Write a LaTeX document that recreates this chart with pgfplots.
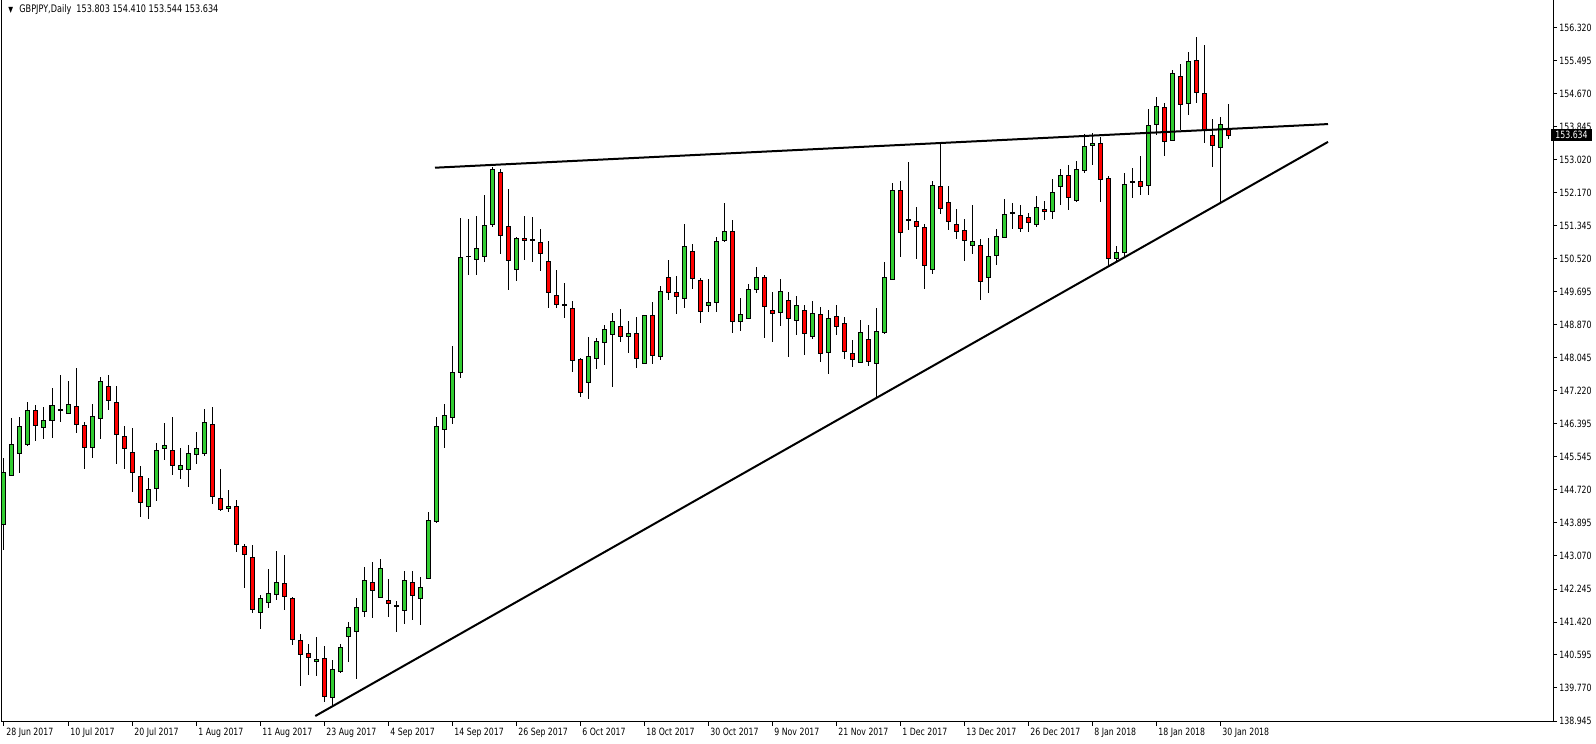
\documentclass[border=0pt]{standalone}
\usepackage{fontspec}
\setmainfont{DejaVu Sans}[FakeStretch=0.78]
\usepackage{pgfplots}
\pgfplotsset{compat=1.18}
\usepackage{pgfplotstable}
\definecolor{bull}{RGB}{50,205,50}
\definecolor{bear}{RGB}{255,0,0}

\pgfplotstableread{
i O H L C
0 143.884 145.531 143.232 145.171
1 145.104 146.534 145.088 145.882
2 145.656 146.559 145.155 146.333
3 145.873 146.935 145.848 146.734
4 146.734 146.868 145.974 146.358
5 146.308 146.809 146.024 146.483
6 146.483 147.294 146.049 146.860
7 146.740 147.620 146.450 146.752
8 146.659 147.461 146.659 146.885
9 146.834 147.796 146.174 146.383
10 146.358 146.442 145.272 145.806
11 145.806 146.885 145.547 146.584
12 146.534 147.561 146.024 147.461
13 147.336 147.620 146.743 146.985
14 146.935 147.336 145.397 146.132
15 146.082 146.333 145.272 145.781
16 145.681 146.283 144.695 145.180
17 145.079 145.338 144.068 144.428
18 144.327 145.029 144.018 144.753
19 144.779 145.907 144.469 145.731
20 145.781 146.408 145.497 145.857
21 145.731 146.559 145.121 145.347
22 145.255 145.781 145.021 145.355
23 145.255 145.857 144.820 145.656
24 145.631 146.183 145.397 145.781
25 145.656 146.759 145.598 146.433
26 146.383 146.809 144.394 144.578
27 144.528 145.255 144.220 144.252
28 144.277 144.728 144.193 144.327
29 144.327 144.478 143.191 143.374
30 143.316 143.374 142.288 143.124
31 143.049 143.349 141.661 141.736
32 141.670 142.096 141.260 142.012
33 141.920 142.748 141.787 142.146
34 142.121 143.199 141.987 142.422
35 142.397 143.099 141.736 142.071
36 142.021 142.046 140.859 140.993
37 140.968 141.118 139.814 140.617
38 140.642 140.867 140.107 140.541
39 140.441 141.043 140.065 140.491
40 140.516 140.817 139.430 139.564
41 139.538 140.466 139.304 140.240
42 140.190 140.867 140.140 140.792
43 141.068 141.419 140.433 141.293
44 141.193 142.021 140.007 141.795
45 141.695 142.798 141.544 142.472
46 142.422 142.923 141.536 142.221
47 142.046 142.998 142.021 142.773
48 141.970 142.497 141.561 141.895
49 141.830 141.945 141.185 141.836
50 141.720 142.698 141.385 142.472
51 142.422 142.698 141.486 142.096
52 142.021 142.547 141.360 142.296
53 142.522 144.177 142.514 143.976
54 143.943 146.559 143.918 146.333
55 146.250 146.900 145.800 146.600
56 146.550 148.347 146.400 147.687
57 147.687 151.548 147.550 150.570
58 150.590 151.523 150.136 150.600
59 150.520 151.606 150.136 150.796
60 150.587 152.133 150.461 151.373
61 151.398 152.843 151.339 152.776
62 152.701 152.776 150.662 151.122
63 151.347 152.283 149.760 150.495
64 150.269 151.072 149.985 151.047
65 151.047 151.606 150.512 150.996
66 151.021 151.573 150.461 151.000
67 150.946 151.272 150.219 150.670
68 150.470 150.988 149.292 149.693
69 149.617 150.253 149.292 149.392
70 149.385 149.927 149.041 149.375
71 149.292 149.467 147.687 147.988
72 148.013 148.038 147.060 147.185
73 147.436 148.564 147.010 148.088
74 148.038 148.539 147.762 148.464
75 148.439 148.865 147.862 148.765
76 148.640 149.166 147.311 148.966
77 148.840 149.266 148.439 148.590
78 148.590 148.966 148.163 148.665
79 148.665 149.066 147.787 148.038
80 147.913 149.116 147.888 149.116
81 149.116 149.442 147.888 148.113
82 148.088 149.843 147.988 149.718
83 150.069 150.495 149.492 149.693
84 149.693 150.094 149.141 149.592
85 149.542 151.398 149.291 150.846
86 150.721 150.896 149.768 150.044
87 149.994 150.044 148.915 149.216
88 149.367 150.019 149.191 149.442
89 149.442 151.072 149.191 150.971
90 150.996 151.924 150.946 151.222
91 151.222 151.498 148.665 148.966
92 148.966 149.542 148.715 149.141
93 149.041 149.893 149.041 149.768
94 149.768 150.319 149.668 150.069
95 150.069 150.119 148.539 149.342
96 149.241 149.693 148.439 149.166
97 149.191 150.019 148.840 149.718
98 149.492 149.693 148.063 149.041
99 148.991 149.592 148.615 149.367
100 149.241 149.367 148.113 148.665
101 148.589 149.467 148.514 149.166
102 149.141 149.317 147.938 148.163
103 148.188 149.241 147.637 149.041
104 149.091 149.367 148.615 148.840
105 148.915 149.066 148.013 148.213
106 148.163 148.489 147.812 148.013
107 147.938 148.991 147.938 148.690
108 148.514 148.865 147.837 147.963
109 147.913 149.291 147.043 148.715
110 148.690 150.445 148.640 150.069
111 150.019 152.425 150.000 152.250
112 152.250 152.476 150.570 151.197
113 151.520 152.952 151.247 151.505
114 151.473 151.824 150.520 151.347
115 151.322 151.398 149.768 150.370
116 150.269 152.476 150.144 152.375
117 152.350 153.428 151.648 151.799
118 151.949 152.350 151.247 151.473
119 151.398 151.774 151.021 151.222
120 151.247 151.523 150.470 150.996
121 150.871 151.874 150.645 150.971
122 150.871 151.021 149.500 149.968
123 150.069 151.047 149.668 150.595
124 150.620 151.272 150.370 151.097
125 151.072 152.024 151.072 151.648
126 151.680 151.924 151.272 151.685
127 151.623 151.874 151.197 151.297
128 151.573 151.673 151.197 151.448
129 151.398 152.100 151.322 151.824
130 151.774 151.974 151.498 151.723
131 151.723 152.526 151.523 152.200
132 152.350 152.776 151.874 152.626
133 152.626 152.877 151.749 152.074
134 151.999 152.977 151.949 152.776
135 152.751 153.654 152.676 153.353
136 153.378 153.679 152.877 153.428
137 153.428 153.579 151.949 152.526
138 152.551 152.609 150.340 150.550
139 150.550 150.850 150.450 150.700
140 150.700 152.676 150.550 152.400
141 152.455 152.802 152.050 152.470
142 152.476 153.102 152.141 152.350
143 152.375 154.281 152.141 153.880
144 153.905 154.582 153.629 154.356
145 154.331 154.431 153.119 153.479
146 153.504 155.259 153.504 155.184
147 155.108 155.409 153.754 154.406
148 154.431 155.710 154.130 155.484
149 155.509 156.086 154.431 154.707
150 154.682 155.885 153.428 153.779
151 153.629 154.030 152.827 153.378
152 153.328 154.080 151.941 153.905
153 153.803 154.410 153.544 153.634
}\candles

\begin{document}
\begin{tikzpicture}
\begin{axis}[
  scale only axis, width=775.5pt, height=361pt,
  xmin=-0.25, xmax=193.625, ymin=138.920, ymax=157.022,
  axis line style={line width=0.5pt},
  xtick={0,8,...,152},
  xticklabels={28 Jun 2017,10 Jul 2017,20 Jul 2017,1 Aug 2017,11 Aug 2017,23 Aug 2017,4 Sep 2017,14 Sep 2017,26 Sep 2017,6 Oct 2017,18 Oct 2017,30 Oct 2017,9 Nov 2017,21 Nov 2017,1 Dec 2017,13 Dec 2017,26 Dec 2017,8 Jan 2018,18 Jan 2018,30 Jan 2018},
  ytick={138.945,139.7724,140.5998,141.4271,142.2545,143.0819,143.9093,144.7367,145.5640,146.3914,147.2188,148.0462,148.8736,149.7010,150.5283,151.3557,152.1831,153.0105,153.8379,154.6652,155.4926,156.320},
  yticklabels={138.945,139.770,140.595,141.420,142.245,143.070,143.895,144.720,145.545,146.395,147.220,148.045,148.870,149.695,150.520,151.345,152.170,153.020,153.845,154.670,155.495,156.320},
  xtick pos=left, ytick pos=right, yticklabel pos=right,
  tick align=outside, major tick length=2pt,
  tick style={black, line width=0.5pt},
  every tick label/.append style={font=\fontsize{5}{6}\selectfont},
  xticklabel style={anchor=north west, inner sep=1pt},
  yticklabel style={anchor=west, inner sep=1pt},
  extra y ticks={153.634}, extra y tick labels={153.634},
  extra y tick style={major tick length=0pt, yticklabel style={fill=black, text=white, inner xsep=2pt, inner ysep=1pt, xshift=-1pt}},
]
% wicks
\addplot[draw=none, mark=none, error bars/.cd, y dir=both, y explicit, error mark=none,
  error bar style={draw=black, line width=0.5pt}]
  table[x=i, y expr={(\thisrow{H}+\thisrow{L})/2}, y error expr={(\thisrow{H}-\thisrow{L})/2}] {\candles};
% body outline
\addplot[draw=none, mark=none, error bars/.cd, y dir=both, y explicit, error mark=none,
  error bar style={draw=black, line width=2.5pt}]
  table[x=i, y expr={(\thisrow{O}+\thisrow{C})/2}, y error expr={abs(\thisrow{C}-\thisrow{O})/2+0.0125}] {\candles};
% bull bodies
\addplot[draw=none, mark=none, restrict expr to domain={\thisrow{C}-\thisrow{O}}{0:100},
  error bars/.cd, y dir=both, y explicit, error mark=none,
  error bar style={draw=bull, line width=1.5pt}]
  table[x=i, y expr={(\thisrow{O}+\thisrow{C})/2}, y error expr={max(abs(\thisrow{C}-\thisrow{O})/2-0.0125,0)}] {\candles};
% bear bodies
\addplot[draw=none, mark=none, restrict expr to domain={\thisrow{C}-\thisrow{O}}{-100:-0.0001},
  error bars/.cd, y dir=both, y explicit, error mark=none,
  error bar style={draw=bear, line width=1.5pt}]
  table[x=i, y expr={(\thisrow{O}+\thisrow{C})/2}, y error expr={max(abs(\thisrow{C}-\thisrow{O})/2-0.0125,0)}] {\candles};
% trend lines
\addplot[black, line width=1pt, mark=none] coordinates {(38.91,139.070) (165.5,153.464)};
\addplot[black, line width=1pt, mark=none] coordinates {(53.875,152.817) (165.5,153.911)};
\node[anchor=west, font=\fontsize{4}{5}\selectfont, inner sep=0pt] at ([xshift=3pt,yshift=-5pt]rel axis cs:0,1) {▼};
\node[anchor=west, font=\fontsize{5.2}{6}\selectfont, inner sep=0pt] at ([xshift=8.5pt,yshift=-5pt]rel axis cs:0,1) {GBPJPY,Daily\ \ 153.803 154.410 153.544 153.634};
\end{axis}
\pgfresetboundingbox
\path (current axis.south west) ++(-1pt,-11pt) rectangle ++(798pt,372pt);
\end{tikzpicture}
\end{document}
